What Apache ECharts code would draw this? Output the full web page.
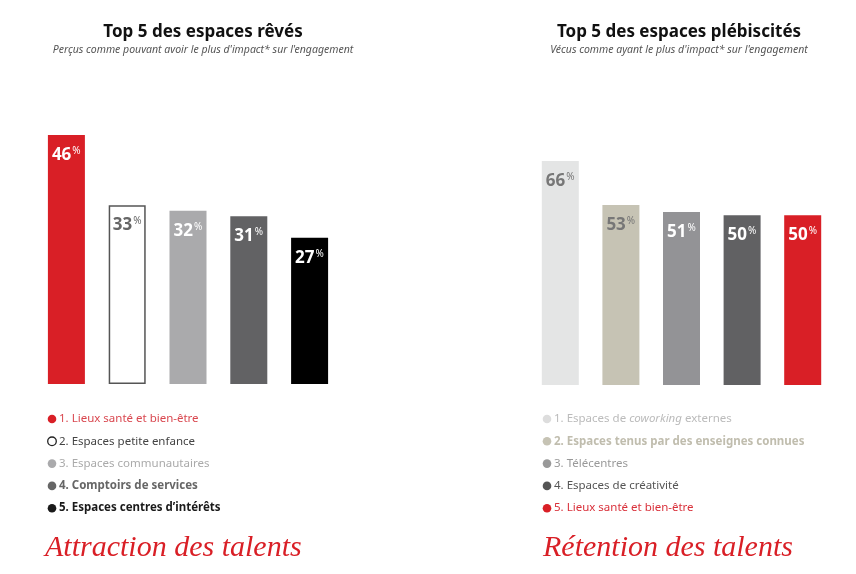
<!DOCTYPE html>
<html><head><meta charset="utf-8">
<script src="https://cdn.jsdelivr.net/npm/echarts@6/dist/echarts.min.js"></script>
<style>html,body{margin:0;padding:0;background:#fff}#c{width:856px;height:574px}</style>
</head><body><div id="c"></div>
<script>
// ---- data ----
const leftTitle = "Top 5 des espaces rêvés";
const leftSubtitle = "Perçus comme pouvant avoir le plus d'impact* sur l'engagement";
const leftCategories = ["1. Lieux santé et bien-être","2. Espaces petite enfance","3. Espaces communautaires","4. Comptoirs de services","5. Espaces centres d’intérêts"];
const leftValues = [46, 33, 32, 31, 27];
const leftFooter = "Attraction des talents";

const rightTitle = "Top 5 des espaces plébiscités";
const rightSubtitle = "Vécus comme ayant le plus d'impact* sur l'engagement";
const rightCategories = ["1. Espaces de coworking externes","2. Espaces tenus par des enseignes connues","3. Télécentres","4. Espaces de créativité","5. Lieux santé et bien-être"];
const rightValues = [66, 53, 51, 50, 50];
const rightFooter = "Rétention des talents";

// ---- styles ----
const FONT = "'Noto Sans', 'Open Sans', sans-serif";
const RED = '#d91f26';
const leftColors = [RED, '#ffffff', '#aaaaac', '#626264', '#000000'];
const leftBorders = [null, '#555555', null, null, null];
const leftLabelColors = ['#ffffff', '#666666', '#ffffff', '#ffffff', '#ffffff'];
const leftLegendText = ['#d9474f', '#444444', '#aaaaaa', '#666666', '#1a1a1a'];
const leftLegendWeight = ['normal','normal','normal','bold','bold'];
const leftDot = [RED, null, '#aaaaac', '#666666', '#1a1a1a'];

const rightColors = ['#e4e5e5', '#c6c3b4', '#939396', '#616163', RED];
const rightLabelColors = ['#777777', '#777777', '#ffffff', '#ffffff', '#ffffff'];
const rightLegendText = ['#bbbbbb', '#c0bdae', '#999999', '#555555', '#d9303a'];
const rightLegendWeight = ['normal','bold','normal','normal','normal'];
const rightDot = ['#dddddd', '#c6c3b4', '#999999', '#555555', RED];

function barData(values, colors, borders, labelColors) {
  return values.map((v, i) => ({
    value: v,
    itemStyle: {
      color: colors[i],
      borderColor: borders && borders[i] ? borders[i] : colors[i],
      borderWidth: borders && borders[i] ? 1.5 : 0
    },
    label: { rich: {
      n: { color: labelColors[i], fontSize: 17, fontWeight: 'bold', fontFamily: FONT },
      p: { color: labelColors[i], fontSize: 10, fontFamily: FONT, verticalAlign: 'top', padding: [0,0,8,1] }
    } }
  }));
}

function legendGraphics(cats, x0, y0, textColors, weights, dots, italicWord) {
  const g = [];
  cats.forEach((c, i) => {
    const y = y0 + i * 22.3;
    g.push({ type: 'circle', shape: { cx: x0, cy: y + 1, r: 4.3 },
      style: dots[i] ? { fill: dots[i] } : { fill: '#fff', stroke: '#222', lineWidth: 1.3 } });
    let rich = {
      t: { fill: textColors[i], fontSize: 11.5, fontWeight: weights[i], fontFamily: FONT },
      i: { fill: textColors[i], fontSize: 11.5, fontStyle: 'italic', fontFamily: FONT }
    };
    let text = '{t|' + c + '}';
    if (italicWord && c.indexOf(italicWord) >= 0) {
      const parts = c.split(italicWord);
      text = '{t|' + parts[0] + '}{i|' + italicWord + '}{t|' + parts[1] + '}';
    }
    g.push({ type: 'text', x: x0 + 7, y: y + 1, style: { text: text, rich: rich, verticalAlign: 'middle', fill: textColors[i], font: '11.5px ' + FONT } });
  });
  return g;
}

const labelCfg = {
  show: true, position: 'insideTopLeft', distance: 4, offset: [0, 7],
  formatter: p => '{n|' + p.value + '}{p|%}'
};

const option = {
  backgroundColor: '#ffffff',
  animation: false,
  title: [
    { text: leftTitle, subtext: leftSubtitle, left: 198, top: 19, textAlign: 'center', itemGap: 4,
      textStyle: { fontFamily: FONT, fontSize: 17, fontWeight: 'bold', color: '#111' },
      subtextStyle: { fontFamily: FONT, fontSize: 10.5, fontStyle: 'italic', color: '#555' } },
    { text: rightTitle, subtext: rightSubtitle, left: 674, top: 19, textAlign: 'center', itemGap: 4,
      textStyle: { fontFamily: FONT, fontSize: 17, fontWeight: 'bold', color: '#111' },
      subtextStyle: { fontFamily: FONT, fontSize: 10.5, fontStyle: 'italic', color: '#555' } }
  ],
  grid: [
    { left: 36, width: 304, top: 135, height: 249 },
    { left: 530, width: 303, top: 161, height: 224 }
  ],
  xAxis: [
    { type: 'category', gridIndex: 0, data: leftCategories, show: false },
    { type: 'category', gridIndex: 1, data: rightCategories, show: false }
  ],
  yAxis: [
    { type: 'value', gridIndex: 0, min: 0, max: 46, show: false },
    { type: 'value', gridIndex: 1, min: 0, max: 66, show: false }
  ],
  series: [
    { type: 'bar', xAxisIndex: 0, yAxisIndex: 0, barWidth: 37, label: labelCfg,
      data: barData(leftValues, leftColors, leftBorders, leftLabelColors) },
    { type: 'bar', xAxisIndex: 1, yAxisIndex: 1, barWidth: 37, label: labelCfg,
      data: barData(rightValues, rightColors, null, rightLabelColors) }
  ],
  graphic: [].concat(
    legendGraphics(leftCategories, 52, 418, leftLegendText, leftLegendWeight, leftDot, null),
    legendGraphics(rightCategories, 547, 418, rightLegendText, rightLegendWeight, rightDot, 'coworking'),
    [
      { type: 'text', x: 45, y: 548, style: { text: leftFooter, fill: RED, font: 'italic 30px "Liberation Serif", serif', verticalAlign: 'middle' } },
      { type: 'text', x: 543, y: 548, style: { text: rightFooter, fill: RED, font: 'italic 30px "Liberation Serif", serif', verticalAlign: 'middle' } }
    ]
  )
};
const chart = echarts.init(document.getElementById('c'), null, { renderer: 'canvas' });
chart.setOption(option);
</script></body></html>
